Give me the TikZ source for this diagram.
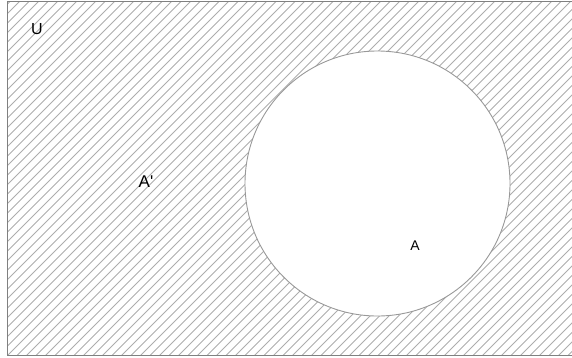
\documentclass[tikz,border=0pt]{standalone}
\usepackage{fontspec}
\setmainfont{Liberation Sans}
\begin{document}
\begin{tikzpicture}[x=1pt,y=-1pt,
  hatch/.style={draw=black!32,line width=0.9pt},
  frame/.style={draw=black!50,line width=1pt},
  setcircle/.style={draw=black!40,fill=white,line width=0.9pt},
  lbl/.style={inner sep=0pt}]
\useasboundingbox (0,0) rectangle (572,357);
\begin{scope}
\clip (7,1) rectangle (572,355);
\foreach \c in {2,11.5,...,940} {
  \draw[hatch] (\c,0) -- ++(-400,400);
}
\end{scope}
\draw[frame] (575,1) -- (7,1) -- (7,355) -- (575,355);
\node[setcircle,circle,minimum size=265pt,inner sep=0pt] (A) at (377.5,183.5) {};
\node[lbl,font=\fontsize{16}{18}\selectfont] (U) at (37,29.5) {U};
\node[lbl,font=\fontsize{17}{19}\selectfont] (Ac) at (146,182) {A\textquotesingle};
\node[lbl,font=\fontsize{14}{16}\selectfont] (Al) at (415,246) {A};
\end{tikzpicture}
\end{document}
